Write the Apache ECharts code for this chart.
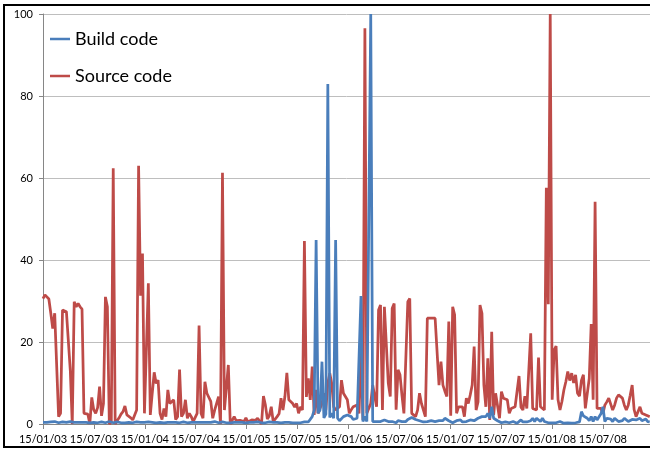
<!DOCTYPE html>
<html>
<head>
<meta charset="utf-8">
<script src="https://cdn.jsdelivr.net/npm/echarts@6/dist/echarts.min.js"></script>
<style>
  html, body { margin: 0; padding: 0; background: #fff; }
  #chart { width: 650px; height: 449px; }
  #frame { position: absolute; left: 3px; top: 4px; width: 700px; height: 444px;
           border: 2px solid #000; box-sizing: border-box; pointer-events: none; }
</style>
</head>
<body>
<div id="chart"></div>
<div id="frame"></div>
<script>
// weekly samples starting 15/01/03, x is days since that date
var weekStep = 7;
var halfYear = 182.625;
var tickLabels = ['15/01/03', '15/07/03', '15/01/04', '15/07/04', '15/01/05', '15/07/05',
                  '15/01/06', '15/07/06', '15/01/07', '15/07/07', '15/01/08', '15/07/08'];

var buildCode = [
  0.4, 0.5, 0.4, 0.3, 0.5, 0.4, 0.6, 0.4, 0.3, 0.4,
  0.5, 0.3, 0.4, 0.4, 0.6, 0.3, 0.4, 0.5, 0.4, 0.3,
  0.4, 0.5, 0.4, 0.3, 0.3, 0.4, 0.4, 0.5, 0.3, 0.4,
  0.5, 0.4, 0.3, 0.4, 0.6, 0.4, 0.3, 0.4, 0.5, 0.4,
  0.3, 0.4, 0.3, 0.5, 0.4, 0.4, 0.3, 0.4, 0.5, 0.6,
  0.4, 0.3, 0.4, 0.4, 0.5, 0.3, 0.4, 0.4, 0.3, 0.5,
  0.4, 0.4, 0.3, 0.3, 0.4, 0.5, 0.4, 0.3, 0.4, 0.4,
  0.3, 0.4, 0.5, 0.4, 0.3, 0.4, 0.4, 0.3, 0.4, 0.5,
  0.4, 0.3, 0.4, 0.3, 0.4, 0.5, 0.4, 0.4, 0.6, 0.4,
  0.3, 0.4, 0.5, 0.4, 0.3, 0.4, 0.3, 0.4, 0.4, 0.5,
  0.4, 0.3, 0.4, 0.4, 0.3, 0.5, 0.4, 0.3, 0.4, 0.4,
  0.5, 0.4, 0.3, 0.4, 0.3, 0.4, 0.5, 0.4, 0.4, 0.3,
  0.4, 0.4, 0.3, 0.5, 0.4, 0.3, 0.4, 0.4, 0.3, 0.4,
  0.3, 0.3, 0.3, 0.4, 0.5, 0.4, 0.5, 0.5, 1.8, 3.4,
  44.9, 2.6, 3.4, 15.2, 1.5, 2.4, 82.9, 1.6, 2.6, 1.4,
  44.9, 1.4, 0.8, 0.6, 1.8, 1.4, 2.2, 2.2, 1.8, 1.1,
  0.9, 1.4, 1, 31.2, 0.6, 1.8, 0.6, 0.8, 100, 0.6,
  1, 0.6, 0.8, 0.6, 0.8, 1, 0.6, 0.6, 1, 0.6,
  0.5, 0.3, 0.8, 0.7, 0.6, 0.8, 0.6, 1.1, 1.1, 1.6,
  1.6, 1.1, 0.8, 0.8, 0.6, 0.5, 0.3, 0.6, 0.5, 0.8,
  0.6, 0.6, 0.6, 0.8, 0.6, 0.8, 1.4, 1.2, 0.8, 0.4,
  0.3, 0.6, 0.8, 1, 1, 0.5, 0.3, 0.6, 0.8, 1,
  0.6, 0.8, 1, 1.4, 1.8, 1.8, 1.4, 1.8, 2.6, 1.4,
  4.2, 1.4, 1, 0.8, 0.6, 0.3, 0.3, 0.5, 0.3, 0.3,
  0.5, 0.6, 0.3, 0.2, 0.6, 1, 0.5, 0.3, 0.5, 0.6,
  0.8, 1.4, 0.6, 1.4, 1, 0.6, 1.4, 0.6, 0.6, 0.3,
  0.2, 0.3, 0.2, 0.3, 0.3, 0.6, 0.8, 0.2, 0.2, 0.3,
  0.2, 0.2, 0.2, 0.3, 0.3, 0.5, 3, 2, 1.8, 1.4,
  0.8, 1.8, 0.6, 1.8, 1, 0.8, 2.5, 4.2, 0.6, 1.4,
  1, 1.2, 0.6, 1.4, 1, 0.6, 1, 0.8, 1.4, 1.8,
  0.6, 1, 1.1, 1.4, 1, 0.8, 1.4, 0.8, 1, 1.2,
  0.6, 0.5
];

var sourceCode = [
  30.6, 31.5, 31, 30.5, 27, 23.3, 27, 27.4, 1.8, 2.6,
  27.8, 27.6, 27.4, 27.2, 13, 0, 29.8, 28.6, 29.4, 28.6,
  28, 2.6, 2.2, 2.4, 0, 6.5, 3.5, 2.6, 4, 9.1,
  2, 5, 31, 28.6, 0, 0.5, 62.4, 0, 0.8, 1.5,
  2.4, 3, 4.4, 2.2, 2.2, 1.5, 1, 1.3, 3.4, 63,
  31.3, 41.6, 2.6, 2.6, 34.3, 2.2, 7.5, 12.6, 9.9, 10.7,
  2.6, 1.1, 3.8, 1.8, 8.3, 5, 5.4, 5.9, 1.1, 1.8,
  13.3, 1.8, 2.6, 5.9, 1.4, 2.6, 1.8, 0.6, 0.4, 2.6,
  24, 2.6, 1.4, 10.3, 7.5, 7.1, 5.5, 1.4, 3.4, 3.8,
  6.7, 0, 61.3, 3.4, 3.4, 14.4, 0, 0.4, 1.8, 0.8,
  0.6, 0.9, 1.2, 0.6, 1.5, 0.5, 0.8, 1, 0.7, 0.9,
  1.4, 1.3, 0, 6.8, 4.6, 1.2, 2, 4.2, 0.6, 1.2,
  1.8, 2.5, 6.3, 3.4, 6.7, 12.5, 5.9, 5.9, 5, 4.1,
  5, 2.6, 4.2, 3.4, 44.6, 6.6, 11.1, 5.9, 14, 2.2,
  8.3, 2.6, 2.2, 5, 7.5, 3.4, 10, 12.4, 9.9, 4.2,
  3.4, 3.8, 4.2, 10.7, 7.5, 7.5, 5.9, 2.6, 3.5, 4.2,
  3.8, 4.6, 2.6, 18, 1, 96.5, 2.6, 2.6, 5, 9.5,
  9.1, 4.2, 27.8, 29, 3.4, 28.6, 29, 9.9, 6.7, 28.2,
  29.4, 3.5, 13.2, 12, 7, 2.6, 2.2, 29.8, 30.6, 2.6,
  2.6, 1.8, 3.4, 7.5, 5, 3.4, 1.8, 25.8, 26, 25.8,
  25.8, 25.8, 25.8, 9.5, 15.2, 9.5, 8, 6.7, 25, 2,
  28.6, 26.6, 2.6, 4.2, 4.2, 4.2, 1.8, 6.3, 5, 7.1,
  9.5, 18.9, 3.4, 5.4, 29, 27, 9.5, 4.2, 16, 1,
  22.5, 2.2, 7.5, 7.5, 1.4, 7.9, 6.3, 6.3, 5.9, 2.6,
  3.8, 3.8, 4.2, 3.8, 11.7, 4.1, 3.4, 6.8, 3.8, 3.4,
  22.1, 3.8, 4.2, 3.4, 16.2, 4.2, 4, 3.4, 57.6, 29.2,
  100, 5.9, 18, 19, 5.9, 3.4, 5.5, 8.3, 10.3, 12.8,
  10.6, 12.4, 10, 12, 7.5, 6.8, 10.6, 12, 3.8, 4.2,
  11.1, 24.4, 5.9, 54.2, 3.8, 3.8, 3.8, 2.5, 4.6, 5.4,
  6.3, 6.3, 3.4, 4.6, 6.3, 7.1, 7.1, 6.3, 4.6, 3.4,
  4.6, 7, 9.5, 3.5, 1.8, 1.8, 4.2, 2.6, 2.7, 2.2,
  2.2, 1.8
];

function toPoints(values) {
  return values.map(function (v, i) { return [i * weekStep, v]; });
}

var chart = echarts.init(document.getElementById('chart'));
var font = 'Lato';
var option = {
  animation: false,
  grid: { left: 43, right: 0, top: 14, bottom: 25 },
  legend: {
    orient: 'vertical',
    left: 45,
    top: 23,
    icon: 'rect',
    itemWidth: 20,
    itemHeight: 2.5,
    itemGap: 15,
    textStyle: { fontFamily: font, fontSize: 18, lineHeight: 22, color: '#000' },
    data: ['Build code', 'Source code']
  },
  xAxis: {
    type: 'value',
    min: 0,
    max: 2178,
    interval: halfYear,
    axisLine: { show: true, lineStyle: { color: '#868686', width: 1 } },
    axisTick: { show: true, length: 5, lineStyle: { color: '#868686' } },
    splitLine: { show: false },
    axisLabel: {
      showMaxLabel: false,
      margin: 10,
      fontFamily: font,
      fontSize: 11,
      color: '#000',
      formatter: function (v) {
        var k = Math.round(v / halfYear);
        if (Math.abs(v - k * halfYear) > 0.5 || k >= tickLabels.length) return '';
        return tickLabels[k];
      }
    }
  },
  yAxis: {
    type: 'value',
    min: 0,
    max: 100,
    interval: 20,
    axisLine: { show: true, lineStyle: { color: '#868686', width: 1 } },
    axisTick: { show: true, length: 4, lineStyle: { color: '#868686' } },
    splitLine: { lineStyle: { color: '#bebebe', width: 1 } },
    axisLabel: { margin: 10, fontFamily: font, fontSize: 11, color: '#000' }
  },
  series: [
    {
      name: 'Build code',
      type: 'line',
      symbol: 'none',
      z: 3,
      color: '#4a7ebb',
      lineStyle: { width: 2.75, color: '#4a7ebb' },
      data: toPoints(buildCode)
    },
    {
      name: 'Source code',
      type: 'line',
      symbol: 'none',
      z: 2,
      color: '#be4b48',
      lineStyle: { width: 2.75, color: '#be4b48' },
      data: toPoints(sourceCode)
    }
  ]
};
chart.setOption(option);
</script>
</body>
</html>
